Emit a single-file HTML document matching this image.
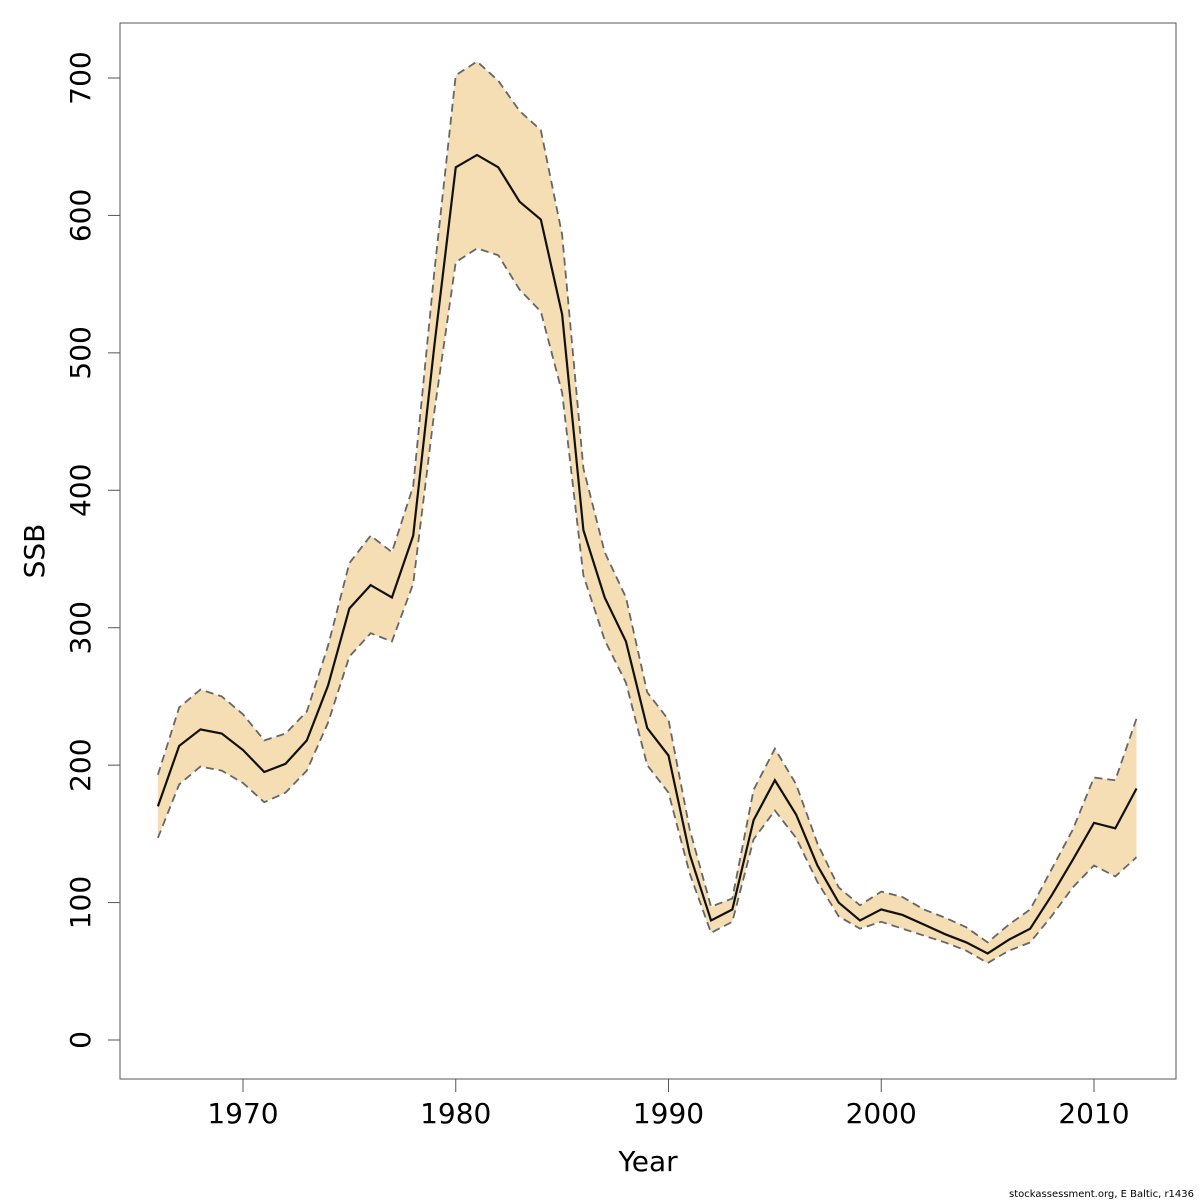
<!DOCTYPE html>
<html>
<head>
<meta charset="utf-8">
<style>
  html,body{margin:0;padding:0;background:#fff;}
  svg{display:block;font-family:"DejaVu Sans","Liberation Sans",sans-serif;}
</style>
</head>
<body>
<svg id="chart" width="1200" height="1200" viewBox="0 0 1200 1200" xmlns="http://www.w3.org/2000/svg">
  <rect x="0" y="0" width="1200" height="1200" fill="#fff"/>
  <g id="band"></g>
  <g id="lines"></g>
  <rect x="120" y="23" width="1056" height="1056" fill="none" stroke="#555" stroke-width="1"/>
  <g id="xaxis"></g>
  <g id="yaxis"></g>
  <text x="648" y="1171" font-size="28" text-anchor="middle" fill="#000">Year</text>
  <text x="44" y="551" font-size="28" text-anchor="middle" fill="#000" transform="rotate(-90 44 551)">SSB</text>
  <text x="1194" y="1197" font-size="10" text-anchor="end" fill="#000">stockassessment.org, E Baltic, r1436</text>
</svg>
<script>
const years = [1966,1967,1968,1969,1970,1971,1972,1973,1974,1975,1976,1977,1978,1979,1980,1981,1982,1983,1984,1985,1986,1987,1988,1989,1990,1991,1992,1993,1994,1995,1996,1997,1998,1999,2000,2001,2002,2003,2004,2005,2006,2007,2008,2009,2010,2011,2012];
const ssbMean = [170,214,226,223,211,195,201,218,258,314,331,322,367,506,635,644,635,610,597,528,371,322,290,227,207,135,87,95,160,189,164,127,100,87,95,91,84,77,71,63,73,81,105,131,158,154,183];
const ssbUpper = [193,242,255,250,237,218,223,239,287,347,367,355,403,560,702,712,698,676,662,586,416,355,322,253,233,153,97,103,182,212,186,143,111,98,108,104,95,89,82,71,84,95,124,153,191,189,234];
const ssbLower = [147,186,199,196,187,173,180,196,231,279,296,290,332,458,566,576,571,546,530,471,338,291,260,200,180,121,78,86,146,167,147,115,90,81,86,81,76,71,65,56,65,71,90,111,127,119,133];
const xTicks = [1970,1980,1990,2000,2010];
const yTicks = [0,100,200,300,400,500,600,700];

const NS = "http://www.w3.org/2000/svg";
function xs(v){ return 243 + (v-1970)*(1094-243)/40; }
function ys(v){ return 1040 - v*(1040-78)/700; }
function mk(tag, attrs, parent){
  const e = document.createElementNS(NS, tag);
  for (const k in attrs) e.setAttribute(k, attrs[k]);
  parent.appendChild(e);
  return e;
}
const band = document.getElementById('band');
const lines = document.getElementById('lines');
const xaxis = document.getElementById('xaxis');
const yaxis = document.getElementById('yaxis');

let pts = years.map((y,i)=>xs(y)+','+ys(ssbUpper[i]));
for (let i=years.length-1;i>=0;i--) pts.push(xs(years[i])+','+ys(ssbLower[i]));
const poly = mk('polygon',{points:pts.join(' '),fill:'#F5DEB3',stroke:'none'},band);



function pathOf(arr){ return years.map((y,i)=>(i?'L':'M')+xs(y)+' '+ys(arr[i])).join(' '); }
const up = mk('path',{d:pathOf(ssbUpper),fill:'none',stroke:'#666','stroke-width':1.8,'stroke-dasharray':'8,5'},lines);


const lo = mk('path',{d:pathOf(ssbLower),fill:'none',stroke:'#666','stroke-width':1.8,'stroke-dasharray':'8,5'},lines);


const mn = mk('path',{d:pathOf(ssbMean),fill:'none',stroke:'#111','stroke-width':2.2},lines);



xTicks.forEach(t=>{
  const l = mk('line',{x1:xs(t),x2:xs(t),y1:1079,y2:1092,stroke:'#555','stroke-width':1},xaxis);
  
  
  const tx = mk('text',{x:xs(t),y:1123,'font-size':28,'text-anchor':'middle',fill:'#000'},xaxis);
  tx.textContent = t;
  
  
});
yTicks.forEach(t=>{
  const l = mk('line',{x1:108,x2:120,y1:ys(t),y2:ys(t),stroke:'#555','stroke-width':1},yaxis);
  
  
  const tx = mk('text',{x:90,y:ys(t),'font-size':28,'text-anchor':'middle',fill:'#000',transform:'rotate(-90 90 '+ys(t)+')'},yaxis);
  tx.textContent = t;
  
  
});
</script>
</body>
</html>
